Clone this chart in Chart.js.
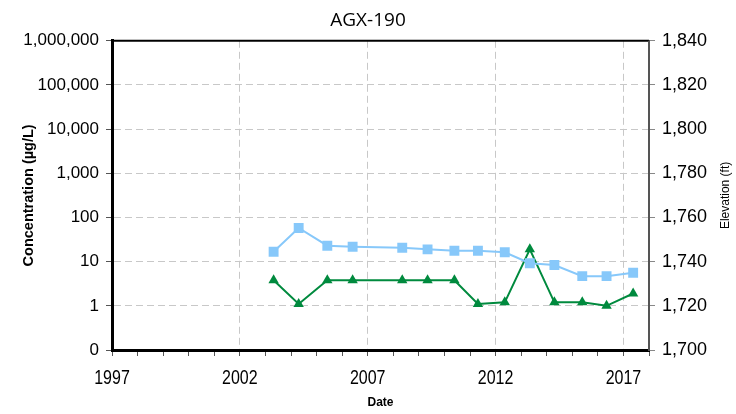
<!DOCTYPE html>
<html>
<head>
<meta charset="utf-8">
<script src="https://cdn.jsdelivr.net/npm/chart.js@4"></script>
<style>
    html, body { margin: 0; padding: 0; background: #fff; }
    #wrap { width: 736px; height: 414px; }
</style>
</head>
<body>
<div id="wrap"><canvas id="chartPoco"></canvas></div>
<script>
const titulo = 'AGX-190';
const datas = [2003.32, 2004.30, 2005.42, 2006.41, 2008.35, 2009.34, 2010.39, 2011.31, 2012.36, 2013.34, 2014.30, 2015.39, 2016.34, 2017.38];
const serieAzul = [16.8, 57.8, 23, 21.8, 20.7, 19, 17.7, 17.7, 16.3, 9.2, 8.4, 4.7, 4.7, 5.6];
const serieVerde = [3.8, 1.1, 3.8, 3.8, 3.8, 3.8, 3.8, 1.1, 1.2, 19, 1.2, 1.2, 1.0, 1.9];
const ticksConcentracao = [0.1, 1, 10, 100, 1000, 10000, 100000, 1000000];
const anosRotulo = [1997, 2002, 2007, 2012, 2017];
const anoInicio = 1997;
const anoFim = 2018;
const elevMin = 1700;
const elevMax = 1840;
const tituloDireita = 'Elevation (ft)';

const fonteNum = "'Liberation Sans', Arial, sans-serif";

function pares(xs, ys) {
    return xs.map((x, i) => ({ x: x, y: ys[i] }));
}

// moldura, rótulos de data (fonte estreita) e título do eixo direito
const moldura = {
    id: 'moldura',
    afterDraw(chart) {
        const a = chart.chartArea;
        const ctx = chart.ctx;
        ctx.save();
        ctx.strokeStyle = '#000';
        ctx.lineWidth = 2;
        ctx.beginPath();
        ctx.moveTo(a.left, a.top);
        ctx.lineTo(a.right, a.top);
        ctx.stroke();
        ctx.strokeStyle = '#555';
        ctx.beginPath();
        ctx.moveTo(a.right, a.top);
        ctx.lineTo(a.right, a.bottom);
        ctx.stroke();
        ctx.restore();

        // datas do eixo x
        const sx = chart.scales.x;
        ctx.save();
        ctx.fillStyle = '#000';
        ctx.font = "20px " + fonteNum;
        ctx.textAlign = 'center';
        ctx.textBaseline = 'middle';
        anosRotulo.forEach(ano => {
            ctx.save();
            ctx.translate(sx.getPixelForValue(ano), a.bottom + 28);
            ctx.scale(0.8, 1);
            ctx.fillText(String(ano), 0, 0);
            ctx.restore();
        });
        ctx.restore();

        ctx.save();
        ctx.translate(726, (a.top + a.bottom) / 2);
        ctx.rotate(-Math.PI / 2);
        ctx.fillStyle = '#000';
        ctx.font = "12px " + fonteNum;
        ctx.textAlign = 'center';
        ctx.textBaseline = 'middle';
        ctx.fillText(tituloDireita, 0, 0);
        ctx.restore();
    }
};

const grade = '#c8c8c8';
const tracejado = [7, 4];

new Chart(document.getElementById('chartPoco').getContext('2d'), {
    type: 'line',
    data: {
        datasets: [
            {
                label: 'Série 1',
                data: pares(datas, serieAzul),
                borderColor: '#87c8fa',
                backgroundColor: '#87c8fa',
                borderWidth: 2,
                pointStyle: 'rect',
                pointRadius: 7,
                pointBorderWidth: 0,
                yAxisID: 'y'
            },
            {
                label: 'Série 2',
                data: pares(datas, serieVerde),
                borderColor: '#008a3e',
                backgroundColor: '#008a3e',
                borderWidth: 2,
                pointStyle: 'triangle',
                pointRadius: 6,
                pointBorderWidth: 0,
                yAxisID: 'y'
            }
        ]
    },
    options: {
        responsive: true,
        maintainAspectRatio: false,
        animation: false,
        layout: { padding: { top: 0, bottom: 4 } },
        plugins: {
            legend: { display: false },
            tooltip: { enabled: false },
            title: {
                display: true,
                text: titulo,
                color: '#000',
                font: { family: "'Open Sans', sans-serif", size: 19, weight: 'normal' },
                padding: { top: 9, bottom: 9 }
            }
        },
        scales: {
            x: {
                type: 'linear',
                min: anoInicio,
                max: anoFim,
                afterBuildTicks(scale) {
                    const t = [];
                    for (let a = anoInicio; a <= anoFim; a++) t.push({ value: a });
                    scale.ticks = t;
                },
                afterFit(scale) { scale.height = 60; },
                border: { color: '#000', width: 3, dash: tracejado },
                grid: {
                    color: ctx => ((ctx.tick.value - anoInicio) % 5 === 0 && ctx.tick.value !== anoInicio) ? grade : 'rgba(0,0,0,0)',
                    tickColor: '#555',
                    tickLength: 6,
                    offset: false
                },
                ticks: {
                    autoSkip: false,
                    maxRotation: 0,
                    callback: () => ''
                },
                title: {
                    display: true,
                    text: 'Date',
                    color: '#000',
                    font: { family: fonteNum, size: 12, weight: 'bold' },
                    padding: { top: 0, bottom: 0 }
                }
            },
            y: {
                type: 'logarithmic',
                position: 'left',
                min: 0.1,
                max: 1000000,
                afterBuildTicks(scale) {
                    scale.ticks = ticksConcentracao.map(v => ({ value: v }));
                },
                afterFit(scale) { scale.width = 112; },
                border: { color: '#000', width: 3, dash: tracejado },
                grid: {
                    color: grade,
                    tickColor: '#555',
                    tickLength: 6
                },
                ticks: {
                    color: '#000',
                    padding: 7,
                    font: { family: fonteNum, size: 17 },
                    callback: v => v < 1 ? '0' : Number(v).toLocaleString('en-US')
                },
                title: {
                    display: true,
                    text: 'Concentration (µg/L)',
                    color: '#000',
                    font: { family: fonteNum, size: 14.5, weight: 'bold' },
                    padding: { top: 20, bottom: 0 }
                }
            },
            y2: {
                type: 'linear',
                position: 'right',
                min: elevMin,
                max: elevMax,
                afterFit(scale) { scale.width = 87; },
                border: { color: '#555', width: 2 },
                grid: {
                    drawOnChartArea: false,
                    tickColor: '#888',
                    tickLength: 6
                },
                ticks: {
                    stepSize: 20,
                    color: '#000',
                    padding: 7,
                    font: { family: fonteNum, size: 18 },
                    callback: v => Number(v).toLocaleString('en-US')
                }
            }
        }
    },
    plugins: [moldura]
});
</script>
</body>
</html>
